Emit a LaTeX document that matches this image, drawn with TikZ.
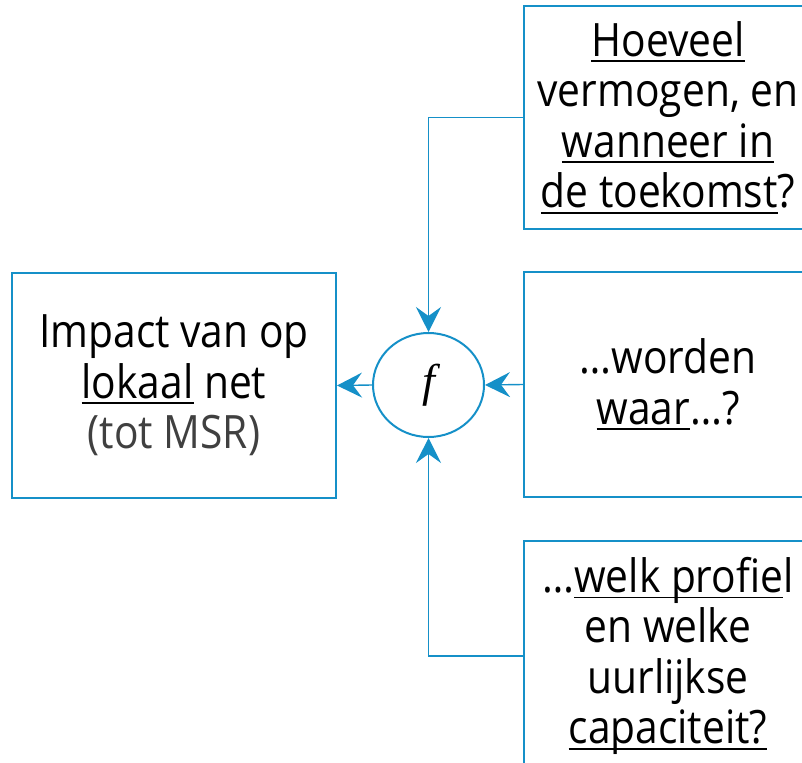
\documentclass[tikz,border=0pt]{standalone}
\usepackage{fontspec}
\setmainfont[FakeStretch=0.885]{Open Sans}
\newfontfamily\ffont{Liberation Serif}
\usetikzlibrary{arrows.meta,shapes.geometric}
\definecolor{blu}{HTML}{1590C8}
\definecolor{graytxt}{HTML}{404040}
\newsavebox{\undlbox}
\newcommand{\undl}[1]{\leavevmode\sbox{\undlbox}{#1}\rlap{\rule[-6pt]{\wd\undlbox}{1.8pt}}\usebox{\undlbox}}
\begin{document}
\begin{tikzpicture}[x=1pt,y=-1pt,
  box/.style={draw=blu,line width=2pt,align=center,inner sep=0pt,
    font=\fontsize{46}{50.5}\selectfont},
  fnode/.style={draw=blu,line width=2pt,ellipse,inner sep=0pt,
    minimum width=111pt,minimum height=104pt,font=\fontsize{46}{50}\selectfont\ffont\itshape},
  conn/.style={draw=blu,line width=1.4pt,
    -{Stealth[length=25pt,width=25pt,inset=9pt]}}]
\useasboundingbox (0,0) rectangle (802,762);
\clip (0,0) rectangle (802,762);
\node[box,minimum width=324pt,minimum height=225pt] (left) at (174,385.5)
  {Impact van op\\\undl{lokaal} net\\{\color{graytxt}(tot MSR)}};
\node[box,minimum width=288pt,minimum height=223pt] (top) at (668,117.5)
  {\undl{Hoeveel}\\vermogen, en\\\undl{wanneer in}\\\undl{de toekomst}?};
\node[box,minimum width=288pt,minimum height=225pt] (mid) at (668,384.5)
  {…worden\\\undl{waar}…?};
\node[box,minimum width=288pt,minimum height=230pt] (bot) at (668,656)
  {…\undl{welk profie}l\\en welke\\uurlijkse\\\undl{capaciteit?}};
\node[fnode] (f) at (428.5,385) {f};
\draw[conn] (top.west) -| (f.north);
\draw[conn] (mid.west) -- (f.east);
\draw[conn] (bot.west) -| (f.south);
\draw[conn] (f.west) -- (left.east);
\end{tikzpicture}
\end{document}
